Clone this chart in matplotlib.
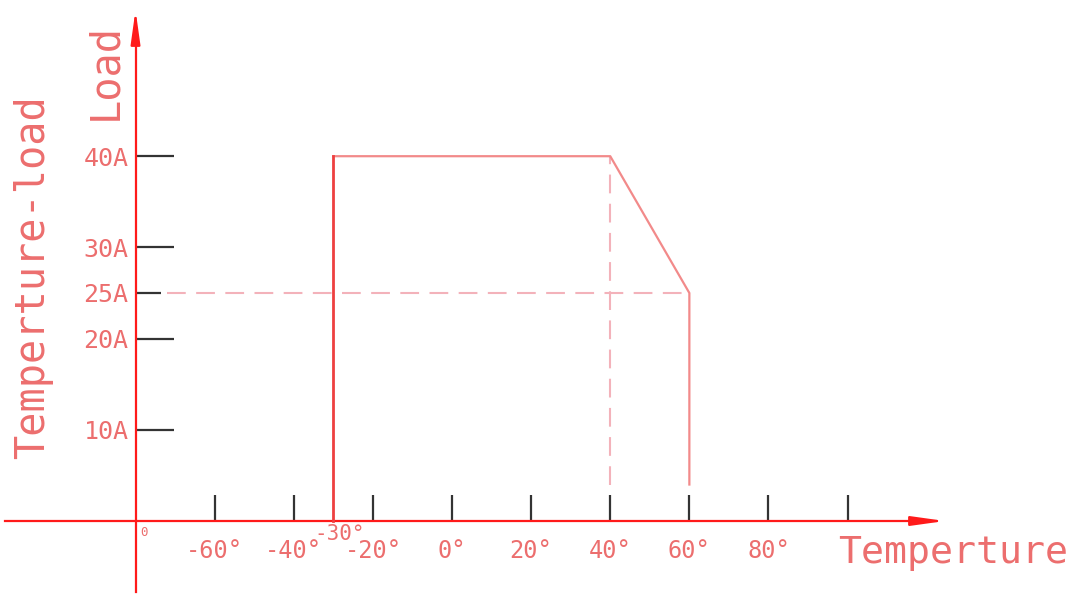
import matplotlib
matplotlib.use("Agg")
from matplotlib import pyplot as plt

# chart values
temp_ticks = [-60, -40, -20, 0, 20, 40, 60, 80, 100]
temp_labels = ["-60°", "-40°", "-20°", "0°", "20°", "40°", "60°", "80°", ""]
load_ticks = [10, 20, 30, 40]
load_labels = ["10A", "20A", "30A", "40A"]
load_minor = [25]
load_minor_labels = ["25A"]

curve_t = [-30, -30, 40, 60, 60]
curve_a = [0, 40, 40, 25, 4]

derate_t = 40      # dashed vertical where derating starts
derate_a = 25      # dashed horizontal at the end current
origin_t = -80     # the load axis sits at -80 degrees
min_t = -30        # extra label under the axis

axis_red = "#ff1a1a"
text_red = "#ec6e6e"
line_red = "#f28a8a"
dash_red = "#f3b2ba"
tick_black = "#333333"

plt.rcParams["font.family"] = ["DejaVu Sans Mono", "DejaVu Sans"]

W, H = 1078, 595
fig = plt.figure(figsize=(W / 100, H / 100), dpi=100)
ax = fig.add_axes([0, 0, 1, 1])

# pixel mapping: 0 deg at x=452, 3.956 px/deg; 0 A at y=521, 9.12 px/A
ppd, x0 = 3.956, 452
ppa, y0 = 9.12, 521
ax.set_xlim(-x0 / ppd, (W - x0) / ppd)
ax.set_ylim(-(H - y0) / ppa, y0 / ppa)

for s in ("top", "right"):
    ax.spines[s].set_visible(False)
ax.spines["left"].set_position(("data", origin_t))
ax.spines["bottom"].set_position(("data", 0))
x_end = (945 - x0) / ppd
y_end = (y0 - 10) / ppa
ax.spines["bottom"].set_bounds((5 - x0) / ppd, x_end - 4)
ax.spines["left"].set_bounds(-(592 - y0) / ppa, y_end - 2)
for s in ("left", "bottom"):
    ax.spines[s].set_color(axis_red)
    ax.spines[s].set_linewidth(1.6)
    ax.spines[s].set_zorder(3)

arrow = dict(arrowstyle="-|>,head_length=1.0,head_width=0.14",
             color=axis_red, lw=1.6, shrinkA=0, shrinkB=0, mutation_scale=20)
ax.annotate("", xy=(x_end, 0), xytext=(x_end - 7, 0), arrowprops=arrow)
ax.annotate("", xy=(origin_t, y_end), xytext=(origin_t, y_end - 3),
            arrowprops=arrow)

ax.set_xticks(temp_ticks)
ax.set_xticklabels(temp_labels)
ax.set_yticks(load_ticks)
ax.set_yticklabels(load_labels)
ax.set_yticks(load_minor, minor=True)
ax.set_yticklabels(load_minor_labels, minor=True)

ax.tick_params(axis="x", direction="in", length=19, width=1.6, color=tick_black,
               labelcolor=text_red, labelsize=17, pad=13)
ax.tick_params(axis="y", which="major", direction="in", length=27, width=1.6,
               color=tick_black, labelcolor=text_red, labelsize=18, pad=5)
ax.tick_params(axis="y", which="minor", direction="in", length=18, width=1.6,
               color=tick_black, labelcolor=text_red, labelsize=18, pad=5)

# dashed guide lines
ax.plot([origin_t + 8, curve_t[3]], [derate_a, derate_a], color=dash_red,
        lw=1.5, dashes=(9, 5), zorder=2)
ax.plot([derate_t, derate_t], [curve_a[-1], curve_a[1]], color=dash_red,
        lw=1.5, dashes=(9, 5), zorder=2)

# temperature-load curve
ax.plot(curve_t[1:], curve_a[1:], color=line_red, lw=1.6, zorder=4)
ax.plot(curve_t[:2], curve_a[:2], color="#ee4040", lw=2.0, zorder=4)

ax.annotate("-30°", xy=(min_t, 0), xytext=(6, -13), textcoords="offset pixels",
            ha="center", va="center", color=text_red, fontsize=15)
ax.annotate("0", xy=(origin_t, 0), xytext=(8, -11), textcoords="offset pixels",
            ha="center", va="center", color=text_red, fontsize=9)

fig.text(105 / W, 1 - 72 / H, "Load", rotation=90, ha="center", va="center",
         color=text_red, fontsize=29)
fig.text(33 / W, 1 - 277 / H, "Temperture-load", rotation=90, ha="center",
         va="center", color=text_red, fontsize=29)
fig.text(838 / W, 1 - 553 / H, "Temperture", ha="left", va="center",
         color=text_red, fontsize=27.5)

fig.savefig("out.png", dpi=100)
